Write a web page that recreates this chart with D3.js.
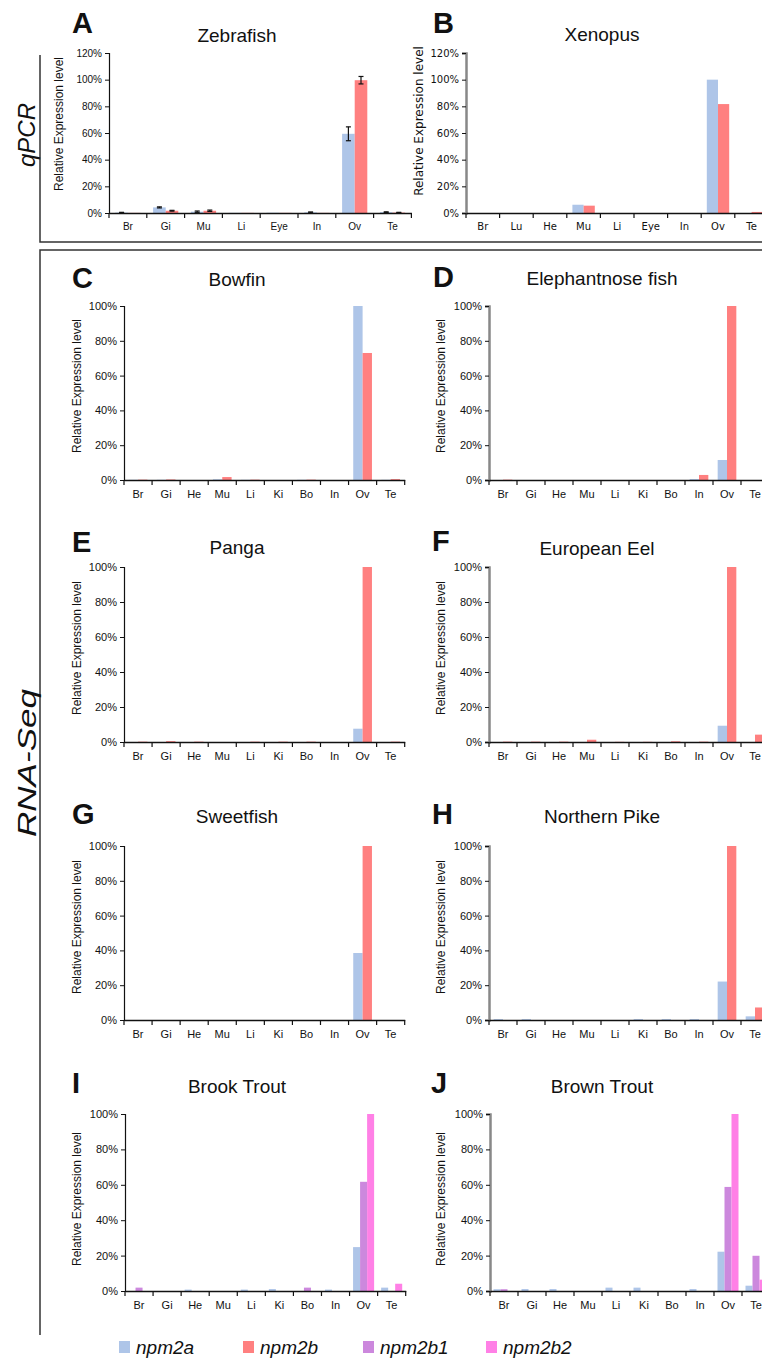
<!DOCTYPE html>
<html>
<head>
<meta charset="utf-8">
<script src="https://cdn.jsdelivr.net/npm/d3@7"></script>
<style>
  body { margin: 0; background: #fff; }
  svg { display: block; }
  text { font-family: "Liberation Sans", Arial, sans-serif; fill: #111; }
</style>
</head>
<body>
<div id="chart"></div>
<script>
// tissues
const tissuesZebrafish = ["Br", "Gi", "Mu", "Li", "Eye", "In", "Ov", "Te"];
const tissuesXenopus = ["Br", "Lu", "He", "Mu", "Li", "Eye", "In", "Ov", "Te"];
const tissuesRnaSeq = ["Br", "Gi", "He", "Mu", "Li", "Ki", "Bo", "In", "Ov", "Te"];

const genes = ["npm2a", "npm2b", "npm2b1", "npm2b2"];
const geneColors = ["#aec5e8", "#ff8080", "#cc88dd", "#ff80e6"];

// qPCR (percent of max)
const zebrafishNpm2a = [0.3, 4.2, 1.0, 0.1, 0.2, 0.5, 59.4, 0.6];
const zebrafishNpm2b = [0.1, 1.7, 1.7, 0.1, 0.1, 0.1, 99.6, 0.3];
const zebrafishErrA = [0.2, 0.4, 0.5, 0, 0, 0.3, 5.2, 0.3];
const zebrafishErrB = [0, 0.3, 0.5, 0, 0, 0, 2.8, 0.2];

const xenopusNpm2a = [0, 0, 0, 6.2, 0, 0, 0, 100, 0];
const xenopusNpm2b = [0, 0, 0, 5.5, 0, 0, 0, 81.7, 0.8];

// RNA-Seq
const bowfinNpm2a = [0.1, 0.1, 0, 0.4, 0.1, 0, 0.1, 0, 100, 0.1];
const bowfinNpm2b = [0.2, 0.3, 0, 1.7, 0.2, 0, 0.2, 0, 73, 0.5];

const elephantnoseNpm2a = [0, 0, 0, 0, 0, 0, 0, 0.5, 11.5, 0];
const elephantnoseNpm2b = [0.2, 0, 0, 0, 0, 0, 0, 2.9, 100, 0];

const pangaNpm2a = [0, 0, 0, 0, 0, 0, 0, 0, 7.6, 0];
const pangaNpm2b = [0.2, 0.5, 0.2, 0, 0.2, 0.2, 0.2, 0, 100, 0.2];

const eelNpm2a = [0, 0, 0, 0, 0, 0, 0, 0, 9.3, 0];
const eelNpm2b = [0.2, 0.2, 0.2, 1.3, 0.1, 0.1, 0.4, 0.2, 100, 4.2];

const sweetfishNpm2a = [0, 0, 0, 0, 0, 0, 0, 0, 38.5, 0];
const sweetfishNpm2b = [0, 0, 0, 0, 0, 0, 0, 0, 100, 0];

const pikeNpm2a = [0.5, 0.5, 0, 0, 0, 0.5, 0.5, 0.5, 22.1, 2.1];
const pikeNpm2b = [0, 0, 0, 0, 0, 0, 0, 0, 100, 7.2];

const brookNpm2a = [0, 0, 0.8, 0, 0.8, 1.1, 0, 0.8, 24.8, 1.9];
const brookNpm2b1 = [1.9, 0, 0, 0, 0, 0, 1.9, 0, 61.7, 0];
const brookNpm2b2 = [0, 0, 0, 0, 0, 0, 0, 0, 100, 4.1];

const brownNpm2a = [1.0, 1.1, 1.1, 0, 1.9, 1.9, 0, 1.1, 22.2, 3.0];
const brownNpm2b1 = [1.0, 0, 0, 0, 0, 0, 0, 0, 58.8, 19.9];
const brownNpm2b2 = [0, 0, 0, 0, 0, 0, 0, 0, 100, 6.4];

const color = d3.scaleOrdinal().domain(genes).range(geneColors);

const W = 762, H = 1359;
const svg = d3.select("#chart").append("svg").attr("width", W).attr("height", H);

const panels = [
  { letter: "A", title: "Zebrafish", tissues: tissuesZebrafish, x0: 109, catW: 37.8, top: 53, bottom: 213, ymax: 120,
    series: [{ key: "npm2a", values: zebrafishNpm2a, err: zebrafishErrA }, { key: "npm2b", values: zebrafishNpm2b, err: zebrafishErrB }],
    letterX: 72, letterY: 33, titleX: 237, titleY: 42, labelX: 63, labelY: 124, tickFont: 10, right: false },
  { letter: "B", title: "Xenopus", tissues: tissuesXenopus, x0: 466, catW: 33.6, top: 53, bottom: 213, ymax: 120,
    series: [{ key: "npm2a", values: xenopusNpm2a }, { key: "npm2b", values: xenopusNpm2b }],
    letterX: 433, letterY: 33, titleX: 602, titleY: 41, labelX: 423, labelY: 121, tickFont: 10, right: true, verdana: true },
  { letter: "C", title: "Bowfin", tissues: tissuesRnaSeq, x0: 124, catW: 28.07, top: 306, bottom: 480, ymax: 100,
    series: [{ key: "npm2a", values: bowfinNpm2a }, { key: "npm2b", values: bowfinNpm2b }],
    letterX: 72, letterY: 288, titleX: 237, titleY: 286, labelX: 81, labelY: 386 },
  { letter: "D", title: "Elephantnose fish", tissues: tissuesRnaSeq, x0: 489, catW: 28, top: 306, bottom: 480, ymax: 100,
    series: [{ key: "npm2a", values: elephantnoseNpm2a }, { key: "npm2b", values: elephantnoseNpm2b }],
    letterX: 433, letterY: 287, titleX: 602, titleY: 285, labelX: 445, labelY: 386, right: true },
  { letter: "E", title: "Panga", tissues: tissuesRnaSeq, x0: 124, catW: 28.07, top: 567, bottom: 742, ymax: 100,
    series: [{ key: "npm2a", values: pangaNpm2a }, { key: "npm2b", values: pangaNpm2b }],
    letterX: 72, letterY: 552, titleX: 237, titleY: 554, labelX: 81, labelY: 648 },
  { letter: "F", title: "European Eel", tissues: tissuesRnaSeq, x0: 489, catW: 28, top: 567, bottom: 742, ymax: 100,
    series: [{ key: "npm2a", values: eelNpm2a }, { key: "npm2b", values: eelNpm2b }],
    letterX: 432, letterY: 551, titleX: 597, titleY: 555, labelX: 445, labelY: 648, right: true },
  { letter: "G", title: "Sweetfish", tissues: tissuesRnaSeq, x0: 124, catW: 28.07, top: 846, bottom: 1020, ymax: 100,
    series: [{ key: "npm2a", values: sweetfishNpm2a }, { key: "npm2b", values: sweetfishNpm2b }],
    letterX: 72, letterY: 824, titleX: 237, titleY: 823, labelX: 81, labelY: 927 },
  { letter: "H", title: "Northern Pike", tissues: tissuesRnaSeq, x0: 489, catW: 28, top: 846, bottom: 1020, ymax: 100,
    series: [{ key: "npm2a", values: pikeNpm2a }, { key: "npm2b", values: pikeNpm2b }],
    letterX: 432, letterY: 824, titleX: 602, titleY: 823, labelX: 445, labelY: 927, right: true },
  { letter: "I", title: "Brook Trout", tissues: tissuesRnaSeq, x0: 125, catW: 28.07, top: 1114, bottom: 1291, ymax: 100,
    series: [{ key: "npm2a", values: brookNpm2a }, { key: "npm2b1", values: brookNpm2b1 }, { key: "npm2b2", values: brookNpm2b2 }],
    letterX: 72, letterY: 1093, titleX: 237, titleY: 1093, labelX: 81, labelY: 1199 },
  { letter: "J", title: "Brown Trout", tissues: tissuesRnaSeq, x0: 490, catW: 28, top: 1114, bottom: 1291, ymax: 100,
    series: [{ key: "npm2a", values: brownNpm2a }, { key: "npm2b1", values: brownNpm2b1 }, { key: "npm2b2", values: brownNpm2b2 }],
    letterX: 431, letterY: 1093, titleX: 602, titleY: 1093, labelX: 445, labelY: 1199, right: true },
];

const drawPanel = (p) => {
  const g = svg.append("g").attr("class", "panel-" + p.letter);
  const x = d3.scaleBand().domain(p.tissues).range([p.x0, p.x0 + p.catW * p.tissues.length]);
  const inner = d3.scaleBand().domain(p.series.map((s) => s.key)).range([0, x.bandwidth()]).paddingOuter(0.5).paddingInner(0);
  const y = d3.scaleLinear().domain([0, p.ymax]).range([p.bottom, p.top]);
  const font = p.verdana ? '"DejaVu Sans", Verdana, sans-serif' : '"Liberation Sans", Arial, sans-serif';

  p.series.forEach((s) => {
    g.append("g")
      .selectAll("rect")
      .data(s.values.map((v, i) => ({ t: p.tissues[i], v })))
      .join("rect")
      .attr("x", (d) => x(d.t) + inner(s.key))
      .attr("width", inner.bandwidth())
      .attr("y", (d) => y(d.v))
      .attr("height", (d) => y(0) - y(d.v))
      .attr("fill", color(s.key));
  });

  // error bars (qPCR)
  p.series.filter((s) => s.err).forEach((s) => {
    const eb = s.values.map((v, i) => ({ t: p.tissues[i], v, e: s.err[i] })).filter((d) => d.e > 0);
    const cx = (d) => x(d.t) + inner(s.key) + inner.bandwidth() / 2;
    const eg = g.append("g").attr("stroke", "#111").attr("stroke-width", 1.2);
    eg.selectAll("line.v").data(eb).join("line").attr("class", "v")
      .attr("x1", cx).attr("x2", cx).attr("y1", (d) => y(d.v + d.e)).attr("y2", (d) => y(d.v - d.e));
    eg.selectAll("line.t").data(eb).join("line").attr("class", "t")
      .attr("x1", (d) => cx(d) - 2.5).attr("x2", (d) => cx(d) + 2.5).attr("y1", (d) => y(d.v + d.e)).attr("y2", (d) => y(d.v + d.e));
    eg.selectAll("line.b").data(eb).join("line").attr("class", "b")
      .attr("x1", (d) => cx(d) - 2.5).attr("x2", (d) => cx(d) + 2.5).attr("y1", (d) => y(d.v - d.e)).attr("y2", (d) => y(d.v - d.e));
  });

  // y axis
  const yAxis = g.append("g")
    .attr("transform", `translate(${p.x0},0)`)
    .call(d3.axisLeft(y).tickValues(d3.range(0, p.ymax + 1, 20)).tickFormat((d) => d + "%").tickSize(4).tickPadding(3));
  yAxis.selectAll("text").style("font-family", font).style("font-size", (p.tickFont || 11) + "px").attr("fill", "#222");
  yAxis.selectAll(".tick line").attr("stroke", "#111");
  yAxis.select(".domain").attr("stroke", p.right ? "#888" : "#111").attr("stroke-width", p.right ? 2.5 : 1.2);

  // x axis
  const xAxis = g.append("g")
    .attr("transform", `translate(0,${p.bottom})`)
    .call(d3.axisBottom(x).tickSize(0).tickPadding(10));
  xAxis.select(".domain").attr("stroke", "#111").attr("stroke-width", 1.5);
  xAxis.selectAll("text").style("font-family", font).style("font-size", (p.tickFont || 11) + "px").attr("fill", "#222");
  const bounds = p.tissues.map((t) => x(t)).concat([x.range()[1]]);
  xAxis.selectAll("line.bound").data(bounds).join("line").attr("class", "bound")
    .attr("x1", (d) => d).attr("x2", (d) => d).attr("y1", 0).attr("y2", 5)
    .attr("stroke", "#111").attr("stroke-width", 1.2);

  // labels
  g.append("text").attr("x", p.letterX).attr("y", p.letterY)
    .style("font-size", "29px").style("font-weight", "bold").text(p.letter);
  g.append("text").attr("x", p.titleX).attr("y", p.titleY).attr("text-anchor", "middle")
    .style("font-size", "19px").text(p.title);
  g.append("text")
    .attr("transform", `translate(${p.labelX},${p.labelY}) rotate(-90)`)
    .attr("text-anchor", "middle")
    .style("font-size", "12px").style("font-family", font)
    .text("Relative Expression level");
};

panels.forEach(drawPanel);

// section brackets
const frame = svg.append("g").attr("fill", "none").attr("stroke", "#333").attr("stroke-width", 1.5);
frame.append("path").attr("d", "M40,55 V242 H762");
frame.append("path").attr("d", "M762,250 H40 V1335");

svg.append("text")
  .attr("transform", "translate(35,135) rotate(-90)")
  .attr("text-anchor", "middle")
  .style("font-size", "24px").style("font-style", "italic")
  .text("qPCR");
svg.append("text")
  .attr("transform", "translate(36,763) rotate(-90)")
  .attr("text-anchor", "middle")
  .attr("textLength", 148).attr("lengthAdjust", "spacingAndGlyphs")
  .style("font-size", "25px").style("font-style", "italic")
  .text("RNA-Seq");

// legend
const legendX = [119, 243, 363, 486];
const legend = svg.append("g").selectAll("g").data(genes).join("g")
  .attr("transform", (d, i) => `translate(${legendX[i]},1341)`);
legend.append("rect").attr("width", 11).attr("height", 12).attr("fill", (d) => color(d));
legend.append("text").attr("x", 17).attr("y", 13)
  .style("font-size", "19px").style("font-style", "italic").text((d) => d);
</script>
</body>
</html>
